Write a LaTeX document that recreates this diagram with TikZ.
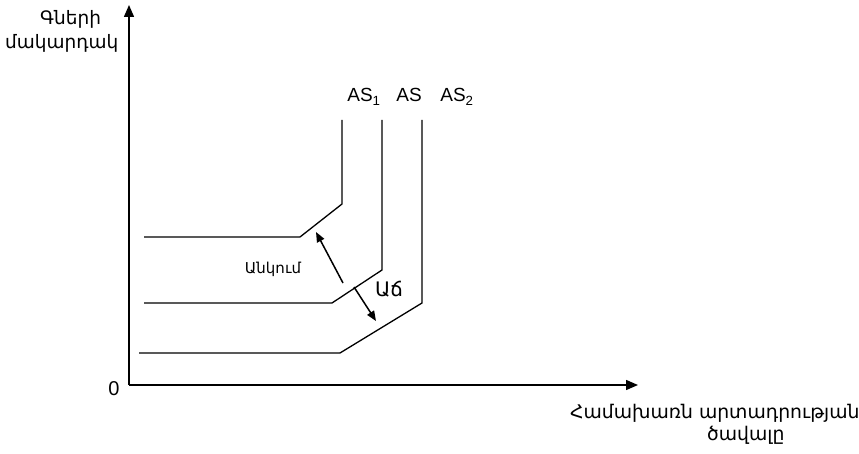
\documentclass[tikz,border=0pt]{standalone}
\usepackage{fontspec}
\setmainfont{Liberation Sans}
\newfontfamily\armfont{DejaVu Sans}
\usetikzlibrary{arrows.meta}
\begin{document}
\begin{tikzpicture}[x=1pt,y=-1pt,
  axis/.style={line width=1.5pt,-{Triangle[length=12pt,width=10pt]}},
  curve/.style={line width=1.3pt},
  shiftarrow/.style={line width=1.5pt,-{Triangle[length=10pt,width=8pt]}},
  lbl/.style={inner sep=0pt,font=\fontsize{19}{21}\selectfont},
  arm/.style={inner sep=0pt,font=\armfont\fontsize{18.8}{20}\selectfont}]
\useasboundingbox (0,0) rectangle (859,454);
% axes
\coordinate (O) at (129,385);
\coordinate (Ytip) at (129,5);
\coordinate (Xtip) at (638,385);
\draw[axis] (O) -- (Ytip);
\draw[axis] (O) -- (Xtip);
\node[lbl,font=\fontsize{20}{22}\selectfont] (zero) at (114,389) {0};
% curves
\coordinate (a1) at (144,237); \coordinate (b1) at (300,237);
\coordinate (c1) at (342,204); \coordinate (d1) at (342,120);
\coordinate (a0) at (144,303); \coordinate (b0) at (332,303);
\coordinate (c0) at (382,270); \coordinate (d0) at (382,120);
\coordinate (a2) at (139,353); \coordinate (b2) at (340,353);
\coordinate (c2) at (422,303); \coordinate (d2) at (422,120);
\draw[curve] (a1) -- (b1) -- (c1) -- (d1);
\draw[curve] (a0) -- (b0) -- (c0) -- (d0);
\draw[curve] (a2) -- (b2) -- (c2) -- (d2);
% labels
\node[lbl,anchor=base] (las1) at (364,102) {AS\textsubscript{1}};
\node[lbl,anchor=base] (las) at (409,102) {AS};
\node[lbl,anchor=base] (las2) at (457,102) {AS\textsubscript{2}};
% shift arrows
\coordinate (s1) at (343,283); \coordinate (e1) at (316,232);
\coordinate (s2) at (354,287); \coordinate (e2) at (376,321);
\draw[shiftarrow] (s1) -- (e1);
\draw[shiftarrow] (s2) -- (e2);
\node[arm,anchor=base,font=\armfont\fontsize{15}{16}\selectfont] (decl) at (273,273) {Անկում};
\node[arm,anchor=base,font=\armfont\fontsize{20}{20}\selectfont] (grow) at (389,297) {Աճ};
% axis titles
\node[arm,anchor=base west,font=\armfont\fontsize{18.5}{20}\selectfont] (yt1) at (40,25) {Գների};
\node[arm,anchor=base west,font=\armfont\fontsize{18.5}{20}\selectfont] (yt2) at (5,49) {մակարդակ};
\node[arm,anchor=base west] (xt1) at (570,418) {Համախառն արտադրության};
\node[arm,anchor=base west] (xt2) at (707,440) {ծավալը};
\end{tikzpicture}
\end{document}
